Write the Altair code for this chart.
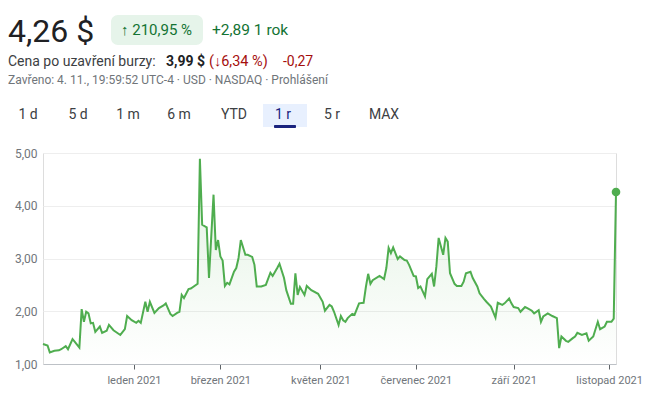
import altair as alt
import pandas as pd

# ---- data (trading-day index from 4. 11. 2020, price in USD) ----
days = [0, 2, 3, 5, 7, 8, 10, 11, 13, 14, 16, 17, 18, 19, 20, 21, 22, 23, 25, 26,
        28, 29, 31, 34, 36, 37, 39, 41, 42, 43, 45, 46, 47, 49, 51, 53, 54, 56, 57, 59,
        60, 61, 62, 64, 65, 68, 69, 70, 72, 73, 75, 76, 77, 78, 79, 80, 81, 82, 84, 85,
        86, 87, 89, 90, 92, 93, 94, 96, 98, 100, 101, 103, 104, 106, 107, 109, 110, 111, 112, 113,
        115, 116, 118, 121, 123, 124, 126, 127, 128, 130, 131, 132, 133, 134, 136, 137, 139, 141, 142, 143,
        144, 145, 148, 150, 151, 152, 153, 154, 156, 157, 159, 160, 161, 163, 164, 165, 166, 168, 169, 171,
        172, 173, 174, 176, 177, 178, 179, 181, 182, 184, 185, 186, 188, 189, 191, 192, 194, 195, 197, 199,
        200, 202, 203, 205, 206, 207, 209, 210, 212, 213, 215, 216, 218, 219, 220, 222, 224, 226, 227, 228,
        230, 231, 233, 234, 235, 237, 239, 240, 242, 244, 245, 247, 248, 250, 251, 252]
prices = [1.38, 1.35, 1.22, 1.25, 1.26, 1.28, 1.34, 1.28, 1.47, 1.42, 1.31, 2.04, 1.80, 1.99, 1.96, 1.77, 1.78, 1.61, 1.71, 1.59,
          1.63, 1.74, 1.64, 1.55, 1.66, 1.91, 1.83, 1.78, 1.82, 1.78, 2.18, 1.99, 2.18, 1.97, 2.06, 2.11, 2.15, 1.95, 1.91, 1.97,
          1.99, 2.31, 2.25, 2.42, 2.43, 2.52, 4.89, 3.64, 3.59, 2.63, 4.21, 3.16, 3.35, 3.04, 2.96, 2.48, 2.54, 2.51, 2.75, 2.82,
          3.01, 3.35, 3.07, 3.07, 3.03, 2.88, 2.47, 2.47, 2.50, 2.73, 2.67, 2.82, 2.90, 2.63, 2.40, 2.14, 2.14, 2.72, 2.31, 2.46,
          2.31, 2.48, 2.40, 2.33, 2.18, 2.01, 2.12, 2.09, 1.99, 1.74, 1.91, 1.83, 1.80, 1.87, 1.95, 1.93, 2.15, 2.16, 2.46, 2.71,
          2.52, 2.59, 2.67, 2.61, 2.82, 3.20, 3.10, 3.21, 2.99, 3.04, 2.97, 2.96, 2.88, 2.67, 2.66, 2.44, 2.47, 2.28, 2.61, 2.71,
          2.47, 2.85, 3.39, 3.07, 3.39, 3.32, 2.72, 2.52, 2.48, 2.48, 2.56, 2.72, 2.75, 2.63, 2.47, 2.34, 2.23, 2.18, 2.09, 1.88,
          2.16, 2.12, 2.15, 2.24, 2.15, 2.08, 2.06, 1.99, 2.08, 2.06, 2.01, 1.96, 2.02, 1.80, 1.90, 1.96, 1.91, 1.87, 1.30, 1.52,
          1.44, 1.42, 1.49, 1.52, 1.59, 1.55, 1.58, 1.44, 1.52, 1.80, 1.66, 1.71, 1.80, 1.80, 1.86, 4.26]

tick_days = [40, 78, 122, 164, 207, 249]
tick_labels = ["leden 2021", "březen 2021", "květen 2021", "červenec 2021", "září 2021", "listopad 2021"]
y_ticks = [1, 2, 3, 4, 5]

tabs = ["1 d", "5 d", "1 m", "6 m", "YTD", "1 r", "5 r", "MAX"]
tab_centers = [28, 78, 128, 179, 234, 283, 332, 384]

df = pd.DataFrame({"day": days, "price": prices})
last = df.tail(1)

FONT = "Roboto"
GREEN = "#4fad4f"
OX, OY = 43, 153  # page position of plot origin

label_expr = " : ".join(
    f"datum.value == {d} ? '{l}'" for d, l in zip(tick_days, tick_labels)
) + " : ''"

x_enc = alt.X("day:Q", scale=alt.Scale(domain=[0, 252], nice=False, zero=False),
              axis=alt.Axis(values=tick_days, labelExpr=label_expr, title=None, grid=False,
                            domainColor="#bdc1c6", tickColor="#5f6368", tickSize=5,
                            labelColor="#70757a", labelFont=FONT, labelFontSize=11,
                            labelPadding=5, labelOverlap=False))
y_enc = alt.Y("price:Q", scale=alt.Scale(domain=[1, 5], nice=False, zero=False),
              axis=alt.Axis(values=y_ticks, title=None, domain=False, ticks=False,
                            gridColor="#eeeeee", labelColor="#70757a", labelFont=FONT,
                            labelFontSize=12, labelPadding=6,
                            labelExpr="replace(format(datum.value, '.2f'), '.', ',')"))

base = alt.Chart(df)

area = base.mark_area(
    color=alt.Gradient(gradient="linear",
                       stops=[alt.GradientStop(color="rgba(79,173,79,0.17)", offset=0),
                              alt.GradientStop(color="rgba(79,173,79,0.0)", offset=1)],
                       x1=1, x2=1, y1=0, y2=1)
).encode(x=x_enc, y=y_enc, y2=alt.datum(1))

line = base.mark_line(color=GREEN, strokeWidth=2).encode(x=x_enc, y=y_enc)
dot = alt.Chart(last).mark_point(filled=True, color=GREEN, size=75, opacity=1).encode(x=x_enc, y=y_enc)

one = alt.Data(values=[{}])


def txt(text, px, py, size=13, color="#3c4043", weight="normal", align="left", font=FONT):
    return alt.Chart(one).mark_text(text=text, align=align, baseline="middle", fontSize=size,
                                    color=color, fontWeight=weight, font=font).encode(
        x=alt.value(px - OX), y=alt.value(py - OY))


def box(x1, x2, y1, y2, color, radius=0):
    return alt.Chart(one).mark_rect(color=color, cornerRadius=radius).encode(
        x=alt.value(x1 - OX), x2=alt.value(x2 - OX), y=alt.value(y1 - OY), y2=alt.value(y2 - OY))


header = [
    txt("4,26 $", 8, 32, size=32, color="#202124"),
    box(111, 203, 15, 45, "#e6f4ea", radius=7),
    txt("↑ 210,95 %", 121, 30, size=15, color="#137333"),
    txt("+2,89 1 rok", 212, 30, size=15.5, color="#137333"),
    txt("Cena po uzavření burzy:", 8, 62, size=14, color="#3c4043"),
    txt("3,99 $", 166, 62, size=14, color="#202124", weight="bold"),
    txt("(↓6,34 %)", 209, 62, size=14.5, color="#a50e0e"),
    txt("-0,27", 283, 62, size=14, color="#a50e0e"),
    txt("Zavřeno: 4. 11., 19:59:52 UTC-4 · USD · NASDAQ · Prohlášení", 8, 80, size=12, color="#70757a"),
    box(263, 307, 104, 127, "#e8f0fe"),
    box(274, 296, 125, 128, "#1a237e", radius=1),
]
for t, c in zip(tabs, tab_centers):
    color = "#1a237e" if t == "1 r" else "#3c4043"
    header.append(txt(t, c, 115, size=14, color=color, align="center"))

chart = alt.layer(area, line, dot, *header).properties(
    width=573, height=211,
    autosize=alt.AutoSizeParams(type="none"),
    padding={"left": 35, "top": 145, "right": 26, "bottom": 24},
).configure_view(stroke=None).configure(background="white")

chart.save("out.html", embed_options={"renderer": "svg", "actions": False})
